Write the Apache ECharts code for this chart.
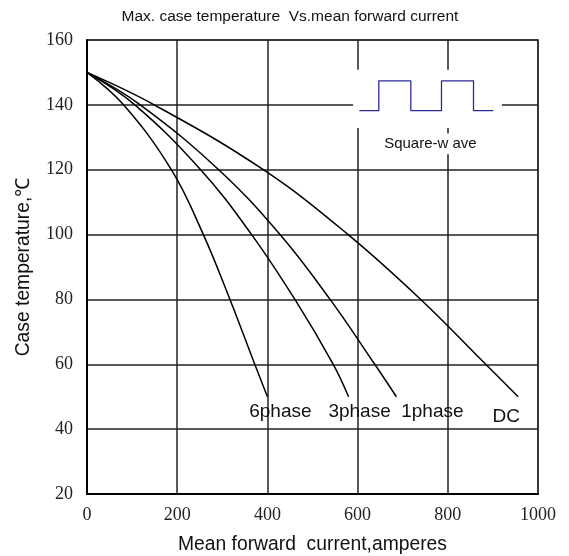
<!DOCTYPE html>
<html>
<head>
<meta charset="utf-8">
<script src="https://cdn.jsdelivr.net/npm/echarts@6/dist/echarts.min.js"></script>
<style>
  html, body { margin: 0; padding: 0; background: #fff; }
  #chart { width: 569px; height: 556px; }
</style>
</head>
<body>
<div id="chart"></div>
<script>
// temperature levels (°C) at which the currents were read
var tempLevels = [150, 140, 120, 100, 80, 60, 50];
// mean forward current (A) of each curve at those levels
var sixPhase   = [0, 81, 187, 258, 317, 372, 400];
var threePhase = [0, 106, 252, 365, 461, 546, 580];
var onePhase   = [0, 118, 292, 428, 539, 638, 686];
var dcCurve    = [0, 149, 391, 579, 740, 884, 956];
var curveNames = ['6phase', '3phase', '1phase', 'DC'];
var labelOffsets = [[13, 15], [11, 15], [36, 15], [-12, 20]];

// inset square-wave symbol
var waveX = [604, 647, 647, 718, 718, 786, 786, 857, 857, 901];
var waveY = [138.2, 138.2, 147.4, 147.4, 138.2, 138.2, 147.4, 147.4, 138.2, 138.2];

var xTicks = [0, 200, 400, 600, 800, 1000];
var yTicks = [20, 40, 60, 80, 100, 120, 140, 160];

function pairs(xs, ys) {
  return xs.map(function (x, i) { return [x, ys[i]]; });
}

var curves = [sixPhase, threePhase, onePhase, dcCurve];
var series = curves.map(function (c, i) {
  var pts = pairs(c, tempLevels);
  return {
    name: curveNames[i],
    type: 'line',
    data: pts,
    smooth: 0.4,
    showSymbol: false,
    lineStyle: { color: '#000', width: 1.5 },
    z: 3,
    markPoint: {
      symbol: 'circle',
      symbolSize: 1,
      itemStyle: { color: 'rgba(0,0,0,0)' },
      label: {
        show: true, position: 'inside', offset: labelOffsets[i],
        color: '#111', fontSize: 19, fontFamily: 'Liberation Sans, Arial',
        formatter: curveNames[i]
      },
      data: [{ coord: pts[pts.length - 1] }]
    }
  };
});

series.push({
  name: 'wave',
  type: 'line',
  data: pairs(waveX, waveY),
  showSymbol: false,
  lineStyle: { color: '#2b2b96', width: 1.3 },
  z: 4,
  markArea: {
    silent: true,
    itemStyle: { color: '#fff' },
    data: [
      [{ coord: [590, 150.8] }, { coord: [920, 132.9] }],
      [{
        coord: [645, 131.2],
        label: {
          show: true, position: 'inside', formatter: 'Square-w ave',
          color: '#111', fontSize: 15, fontFamily: 'Liberation Sans, Arial'
        }
      }, { coord: [878, 124.8] }]
    ]
  }
});

var chart = echarts.init(document.getElementById('chart'));
chart.setOption({
  animation: false,
  title: {
    text: 'Max. case temperature  Vs.mean forward current',
    left: 285, top: 4, textAlign: 'center',
    textStyle: { fontSize: 15.5, fontWeight: 'normal', color: '#111', fontFamily: 'Liberation Sans Narrow, Liberation Sans, Arial' }
  },
  grid: {
    left: 87, right: 31, top: 40, bottom: 62, show: true, borderColor: '#808080', borderWidth: 2,
    outerBoundsMode: 'none'
  },
  xAxis: {
    type: 'value', min: 0, max: 1000, interval: 200,
    name: 'Mean forward  current,amperes', nameLocation: 'middle', nameGap: 41,
    nameTextStyle: { fontSize: 19.3, color: '#111', fontFamily: 'Liberation Sans, Arial' },
    axisLine: { lineStyle: { color: '#000', width: 2 } },
    axisTick: { show: false },
    axisLabel: {
      fontSize: 18, color: '#222', fontFamily: 'Liberation Serif, Times New Roman', margin: 12,
      formatter: function (v) { return xTicks.indexOf(v) >= 0 ? String(v) : ''; }
    },
    splitLine: { lineStyle: { color: '#222', width: 1.5 } }
  },
  yAxis: {
    type: 'value', min: 20, max: 160, interval: 20,
    name: 'Case temperature,\u2103', nameLocation: 'middle', nameGap: 54,
    nameTextStyle: { fontSize: 19.3, color: '#111', fontFamily: 'Liberation Sans, Arial' },
    axisLine: { lineStyle: { color: '#000', width: 2 } },
    axisTick: { show: false },
    axisLabel: {
      fontSize: 18, color: '#222', fontFamily: 'Liberation Serif, Times New Roman', margin: 14,
      formatter: function (v) { return yTicks.indexOf(v) >= 0 ? String(v) : ''; }
    },
    splitLine: { lineStyle: { color: '#222', width: 1.5 } }
  },
  series: series
});
</script>
</body>
</html>
